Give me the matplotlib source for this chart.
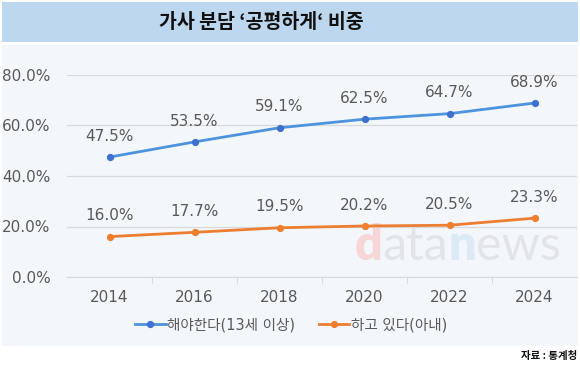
import matplotlib.pyplot as plt
from matplotlib.patches import Rectangle

plt.rcParams['font.family'] = ['DejaVu Sans', 'Noto Sans CJK KR']

# data
years = ["2014", "2016", "2018", "2020", "2022", "2024"]
should = [47.5, 53.5, 59.1, 62.5, 64.7, 68.9]
doing = [16.0, 17.7, 19.5, 20.2, 20.5, 23.3]
series_names = ["해야한다(13세 이상)", "하고 있다(아내)"]
y_ticks = [0, 20, 40, 60, 80]

W, H = 580, 369
fig = plt.figure(figsize=(W / 100, H / 100), dpi=100)

def fx(px):
    return px / W

def fy(py):
    return 1 - py / H

# backgrounds
fig.patches.append(Rectangle((fx(2), fy(42)), fx(576), 40 / H, transform=fig.transFigure,
                             facecolor="#BDD7EE", edgecolor="none", zorder=-5))
fig.patches.append(Rectangle((fx(2), fy(346)), fx(576), 301 / H, transform=fig.transFigure,
                             facecolor="#F3F7FC", edgecolor="none", zorder=-5))

fig.text(fx(261), fy(22), "가사 분담 ‘공평하게‘ 비중", ha="center", va="center",
         fontsize=14, fontweight="bold", color="#111111",
         family=["Noto Sans CJK KR", "DejaVu Sans"])

# watermark, pieces chained left to right
wm = [("d", "#F6D6D6", "heavy"), ("ata", "#E2E4E8", "normal"),
      ("n", "#DCEAF6", "heavy"), ("ews", "#E2E4E8", "normal")]
renderer = fig.canvas.get_renderer()
px = 355
for s, c, wt in wm:
    t = fig.text(fx(px), fy(260), s, fontsize=35, fontweight=wt, color=c,
                 family="Lato", ha="left", va="baseline", zorder=-1)
    px += t.get_window_extent(renderer).width

ax = fig.add_axes([fx(67), fy(277), fx(510), 202 / H])
ax.set_facecolor("none")
x = list(range(len(years)))

ax.plot(x, should, color="#4D93DE", lw=2.0, marker="o", ms=4.2,
        mfc="#3E71CF", mec="#3E71CF", label=series_names[0], zorder=3)
ax.plot(x, doing, color="#ED7D31", lw=2.0, marker="o", ms=4.2,
        mfc="#F07F2D", mec="#F07F2D", label=series_names[1], zorder=3)

for xi, v in zip(x, should):
    ax.annotate(f"{v:.1f}%", (xi, v), xytext=(0, 15), textcoords="offset points",
                ha="center", va="center", fontsize=11, color="#595959")
for xi, v in zip(x, doing):
    ax.annotate(f"{v:.1f}%", (xi, v), xytext=(0, 15), textcoords="offset points",
                ha="center", va="center", fontsize=11, color="#595959")

ax.set_xlim(-0.5, len(years) - 0.5)
ax.set_ylim(0, 80)
ax.set_yticks(y_ticks)
ax.set_yticklabels([f"{t:.1f}%" for t in y_ticks])
ax.set_xticks(x)
ax.set_xticklabels(years)
ax.set_xticks([i + 0.5 for i in x[:-1]], minor=True)
ax.tick_params(axis="y", length=0, pad=12, labelsize=11, labelcolor="#595959")
ax.tick_params(axis="x", which="major", length=0, pad=9, labelsize=11, labelcolor="#595959")
ax.tick_params(axis="x", which="minor", length=4, color="#D9D9D9", width=0.8)
ax.grid(axis="y", color="#D9D9D9", lw=0.9)
for side in ["top", "right", "left"]:
    ax.spines[side].set_visible(False)
ax.spines["bottom"].set_color("#D9D9D9")

fig.legend(loc="center", bbox_to_anchor=(fx(291), fy(325)), ncol=2, frameon=False,
           fontsize=10.5, handlelength=2.1, columnspacing=1.6, handletextpad=0.1,
           labelcolor="#595959", prop={"family": ["DejaVu Sans", "Noto Sans CJK KR"], "size": 10.5})

fig.text(fx(577), fy(356), "자료 : 통계청", ha="right", va="center",
         fontsize=7.5, fontweight="bold", color="#111111",
         family=["Noto Sans CJK KR", "DejaVu Sans"])

fig.savefig("out.png", dpi=100, facecolor="white")
